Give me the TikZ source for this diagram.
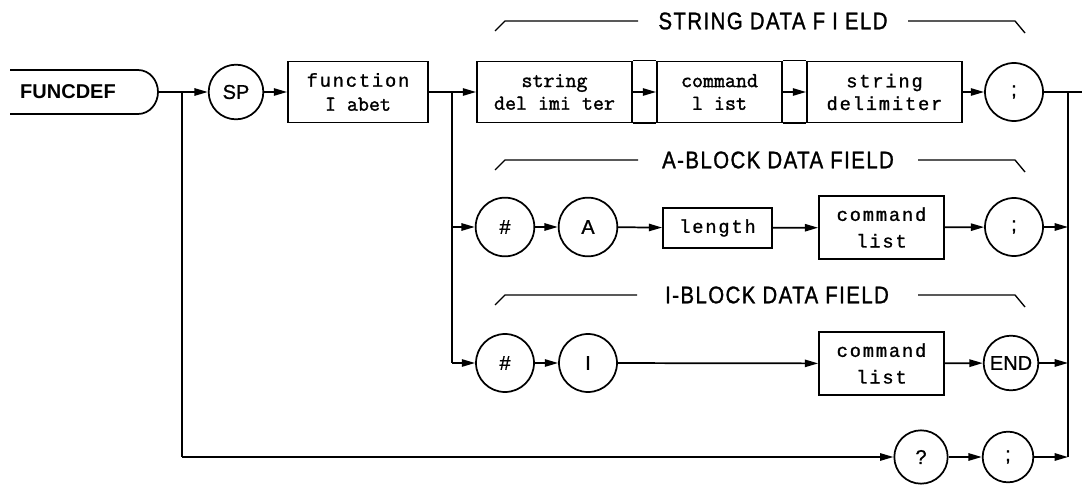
\documentclass[tikz,border=0pt]{standalone}
\usepackage{fontspec}
\setmainfont{Liberation Sans}
\newfontfamily\spmono[LetterSpace=10,FakeBold=1.2]{Liberation Mono}
\newfontfamily\ttb[FakeBold=1.6]{Latin Modern Mono}
\newfontfamily\lblfont[LetterSpace=6,FakeStretch=0.85,FakeBold=1.2]{Liberation Sans}
\newfontfamily\circfont[FakeBold=1]{Liberation Sans}
\usetikzlibrary{arrows.meta}
\begin{document}
\begin{tikzpicture}[x=0.75pt,y=-0.75pt,line width=1.3pt,
  circ/.style={circle,draw,inner sep=0pt,minimum size=43pt,font=\circfont\fontsize{15}{17}\selectfont},
  box/.style={rectangle,draw,inner sep=0pt,align=center,minimum height=45.75pt},
  ttbox/.style={box,font=\ttb\fontsize{16}{17}\selectfont},
  spbox/.style={box,font=\spmono\fontsize{14}{17}\selectfont},
  spbox2/.style={box,font=\spmono\fontsize{14}{20}\selectfont,minimum height=47.25pt,minimum width=93.75pt},
  lbl/.style={font=\lblfont\fontsize{18}{20}\selectfont,inner sep=0pt},
  arr/.style={-{Triangle[length=10pt,width=5.5pt]}}]
\path[use as bounding box,fill=white] (0,0) rectangle (1082,485);

% start terminal
\node[font=\bfseries\fontsize{15}{17}\selectfont] (fd) at (68,92) {FUNCDEF};
\draw (10,70) -- (138,70) to[out=0,in=90] (158,92) to[out=-90,in=0] (138,114) -- (10,114);
\coordinate (fdE) at (158,92);

% junctions and rail
\coordinate (j1) at (182,92);
\coordinate (j1b) at (182,457);
\coordinate (j2) at (452,92);
\coordinate (j2a) at (452,227);
\coordinate (j2b) at (452,363);
\coordinate (r0) at (1068,92);
\coordinate (r1) at (1068,227);
\coordinate (r2) at (1068,363);
\coordinate (r3) at (1068,457);
\coordinate (exit) at (1082,92);

% row 1
\node[circ,minimum size=41pt] (sp) at (236,92) {SP};
\node[box,minimum width=105pt,font=\fontsize{14}{18}\selectfont] (fl) at (358,92) {{\spmono function}\\{\ttb\fontsize{16}{18}\selectfont I abet}};
\node[ttbox,minimum width=116.25pt] (sd1) at (554.5,92) {string\\del imi ter};
\node[ttbox,minimum width=93.75pt] (cl1) at (719.5,92) {command\\l ist};
\node[spbox,minimum width=116.25pt] (sd2) at (884.5,92) {string\\delimiter};
\node[circ,minimum size=43.5pt] (s1) at (1014,92) {;};

% row 2
\node[circ,minimum size=44pt] (hA) at (505,227) {\#};
\node[circ,minimum size=44pt] (a) at (588,227) {A};
\node[spbox,minimum width=81.75pt,minimum height=30pt] (len) at (717.5,228) {length};
\node[spbox2] (cl2) at (881.5,227.5) {command\\list};
\node[circ,minimum size=43.5pt] (s2) at (1014,227) {;};

% row 3
\node[circ,minimum size=43.5pt] (hI) at (505,363) {\#};
\node[circ,minimum size=43.5pt] (i) at (588,363) {I};
\node[spbox2] (cl3) at (881.5,363.5) {command\\list};
\node[circ,minimum size=41pt] (end) at (1011,363) {END};

% bottom row
\node[circ,minimum size=40pt] (q) at (921,457) {?};
\node[circ,minimum size=38pt] (s3) at (1008,457) {;};

% field labels
\node[lbl] (lS) at (773,21) {STRING DATA F I ELD};
\node[lbl] (lA) at (778,160) {A-BLOCK DATA FIELD};
\node[lbl] (lI) at (777,295) {I-BLOCK DATA FIELD};
\draw[line width=1pt] (495,31) -- (505,21) -- (638,21);
\draw[line width=1pt] (908,21) -- (1015,21) -- (1025,33);
\draw[line width=1pt] (495,170) -- (505,160) -- (638,160);
\draw[line width=1pt] (918,160) -- (1015,160) -- (1025,172);
\draw[line width=1pt] (495,305) -- (505,295) -- (637,295);
\draw[line width=1pt] (918,295) -- (1015,295) -- (1025,307);

% connectors row 1
\draw (fdE) -- (j1);
\draw[arr] (j1) -- (sp);
\draw[arr] (sp) -- (fl);
\draw (fl) -- (j2);
\draw[arr] (j2) -- (sd1);
\draw (sd1.north east) -- (cl1.north west);
\draw (sd1.south east) -- (cl1.south west);
\draw (cl1.north east) -- (sd2.north west);
\draw (cl1.south east) -- (sd2.south west);
\draw[arr] (sd1) -- (cl1);
\draw[arr] (cl1) -- (sd2);
\draw[arr] (sd2) -- (s1);
\draw (s1) -- (exit);
\draw (r0) -- (r3);

% branch lines
\draw (j2) -- (j2b);
\draw (j1) -- (j1b);

% row 2
\draw[arr] (j2a) -- (hA);
\draw[arr] (hA) -- (a);
\draw[arr] (a) -- (len);
\draw[arr] (len) -- (cl2);
\draw[arr] (cl2) -- (s2);
\draw[arr] (s2) -- (r1);

% row 3
\draw[arr] (j2b) -- (hI);
\draw[arr] (hI) -- (i);
\draw[arr] (i) -- (cl3);
\draw[arr] (cl3) -- (end);
\draw[arr] (end) -- (r2);

% bottom
\draw[arr] (j1b) -- (q);
\draw[arr] (q) -- (s3);
\draw[arr] (s3) -- (r3);
\end{tikzpicture}
\end{document}
